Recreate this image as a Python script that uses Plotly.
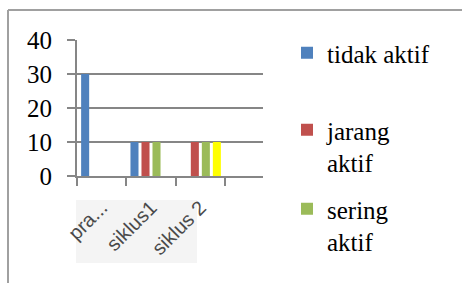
import plotly.graph_objects as go

# ---- data ----
categories = ["pra...", "siklus1", "siklus 2"]
tidak_aktif = [30, 10, 0]
jarang_aktif = [0, 10, 10]
sering_aktif = [0, 10, 10]
sangat_aktif = [0, 0, 10]
series_names = ["tidak aktif", "jarang<br>aktif", "sering<br>aktif", "sangat aktif"]
y_tick_vals = [0, 10, 20, 30, 40]

# ---- layout geometry ----
W, H = 462, 283
L, R, T, B = 77, 199, 40, 107
pw = W - L - R
ph = H - T - B


def px(x):
    return (x - L) / pw


def py(y):
    return (H - B - y) / ph


colors = ["#4F81BD", "#C0504D", "#9BBB59", "#FFFF00"]
grid = "#868686"
serif = "'Times New Roman', 'Liberation Serif', 'DejaVu Serif', serif"

fig = go.Figure()
series = [tidak_aktif, jarang_aktif, sering_aktif, sangat_aktif]
legends = ["legend", "legend2", "legend3", None]
for vals, name, col, lg in zip(series, series_names, colors, legends):
    fig.add_trace(go.Bar(
        x=categories, y=vals, name=name,
        marker=dict(color=col, line=dict(width=0)),
        legend=lg if lg else "legend",
        showlegend=lg is not None,
    ))

leg_common = dict(font=dict(family=serif, size=25, color="#000000"),
                  bgcolor="rgba(0,0,0,0)", borderwidth=0,
                  xanchor="left", yanchor="top", valign="top",
                  itemclick=False, itemdoubleclick=False)

fig.update_layout(
    template="none",
    width=W, height=H,
    margin=dict(l=L, r=R, t=T, b=B, pad=0, autoexpand=False),
    paper_bgcolor="#FFFFFF", plot_bgcolor="#FFFFFF",
    barmode="group", bargap=0.107, bargroupgap=0.27,
    legend=dict(x=px(287), y=py(30), **leg_common),
    legend2=dict(x=px(287), y=py(107), **leg_common),
    legend3=dict(x=px(287), y=py(186), **leg_common),
    xaxis=dict(
        type="category", range=[-0.5, 3.27], automargin=False,
        showgrid=False, zeroline=False,
        showline=True, linecolor=grid, linewidth=2,
        ticks="outside", tickson="boundaries", ticklen=8, tickwidth=2, tickcolor=grid,
        tickangle=-45,
        tickfont=dict(family="'Liberation Sans', Arial, sans-serif", size=20, color="#4A4A4A"),
        ticklabelstandoff=10,
    ),
    yaxis=dict(
        range=[0, 40], tickvals=y_tick_vals, automargin=False,
        showgrid=True, gridcolor=grid, gridwidth=2,
        zeroline=False,
        showline=True, linecolor=grid, linewidth=2,
        ticks="outside", ticklen=8, tickwidth=2, tickcolor=grid,
        tickfont=dict(family=serif, size=25, color="#000000"),
        ticklabelstandoff=10,
    ),
    shapes=[
        # light patch behind the category labels
        dict(type="rect", xref="paper", yref="paper", layer="below",
             x0=px(76), x1=px(197), y0=py(200), y1=py(263),
             fillcolor="#F4F4F4", line=dict(width=0)),
        # outer frame (top and left edges)
        dict(type="line", xref="paper", yref="paper",
             x0=px(8), x1=px(W + 5), y0=py(10), y1=py(10),
             line=dict(color="#A0A0A0", width=2)),
        dict(type="line", xref="paper", yref="paper",
             x0=px(8), x1=px(8), y0=py(10), y1=py(H + 5),
             line=dict(color="#A0A0A0", width=2)),
    ],
)

fig.write_html("out.html",
               config={"displayModeBar": False},
               post_script="document.body.style.margin='0';document.body.style.padding='0';")
